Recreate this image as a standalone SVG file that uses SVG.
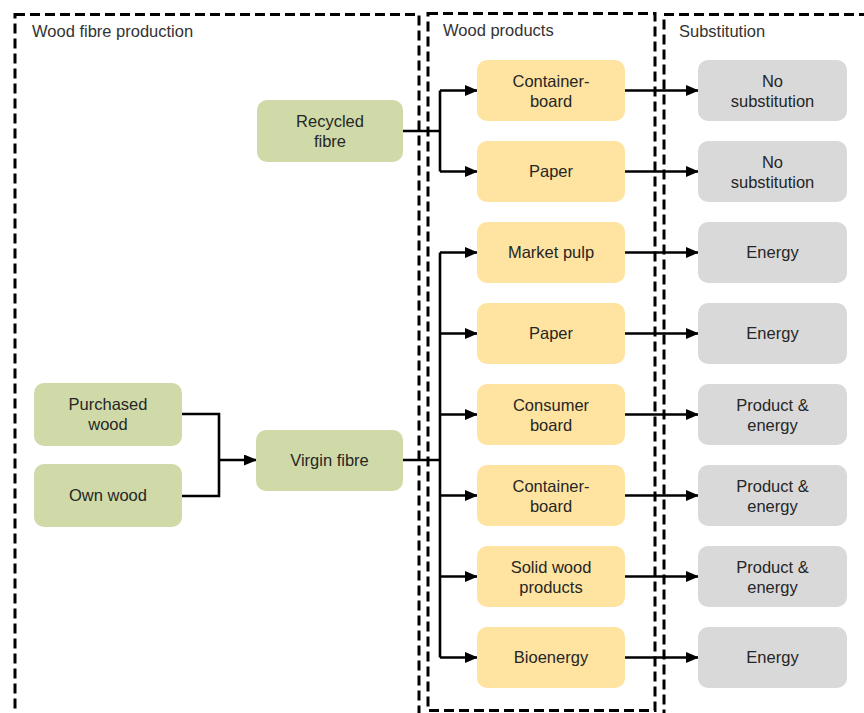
<svg xmlns="http://www.w3.org/2000/svg" width="864" height="713" viewBox="0 0 864 713">
<defs>
<marker id="arr" markerUnits="userSpaceOnUse" markerWidth="13" markerHeight="11" refX="12" refY="5.5" orient="auto"><path d="M0,0 L13,5.5 L0,11 z" fill="#000"/></marker>
<style>
.region{fill:none;stroke:#000;stroke-width:3;stroke-dasharray:10 5}
.hdr{font-family:"Liberation Sans",Arial,sans-serif;font-size:16.5px;fill:#333}
.t{font-family:"Liberation Sans",Arial,sans-serif;font-size:16.5px;fill:#262626;text-anchor:middle}
.g{fill:#D0DAA8}
.y{fill:#FFE3A0}
.s{fill:#D9D9D9}
.c{fill:none;stroke:#000;stroke-width:2.6}
.a{fill:none;stroke:#000;stroke-width:2.6;marker-end:url(#arr)}
</style>
</defs>
<rect width="864" height="713" fill="#fff"/>
<g id="regions">
<rect class="region" x="15" y="14.5" width="404" height="700.5"/>
<rect class="region" x="428" y="13.5" width="227" height="697"/>
<rect class="region" x="664" y="14.5" width="240" height="720"/>
<text class="hdr" x="32" y="37">Wood fibre production</text>
<text class="hdr" x="443" y="36">Wood products</text>
<text class="hdr" x="679" y="37">Substitution</text>
</g>
<g id="connectors">
<polyline class="c" points="403,131 440,131"/>
<polyline class="c" points="440,90.5 440,171.5"/>
<polyline class="a" points="440,90.5 477,90.5"/>
<polyline class="a" points="440,171.5 477,171.5"/>
<polyline class="c" points="403,460 440,460"/>
<polyline class="c" points="440,252.5 440,657.5"/>
<polyline class="a" points="440,252.5 477,252.5"/>
<polyline class="a" points="440,333.5 477,333.5"/>
<polyline class="a" points="440,414.5 477,414.5"/>
<polyline class="a" points="440,495.5 477,495.5"/>
<polyline class="a" points="440,576.5 477,576.5"/>
<polyline class="a" points="440,657.5 477,657.5"/>
<polyline class="c" points="182,414 219,414 219,496 182,496"/>
<polyline class="a" points="219,460 256,460"/>
<polyline class="a" points="625,90.5 698,90.5"/>
<polyline class="a" points="625,171.5 698,171.5"/>
<polyline class="a" points="625,252.5 698,252.5"/>
<polyline class="a" points="625,333.5 698,333.5"/>
<polyline class="a" points="625,414.5 698,414.5"/>
<polyline class="a" points="625,495.5 698,495.5"/>
<polyline class="a" points="625,576.5 698,576.5"/>
<polyline class="a" points="625,657.5 698,657.5"/>
</g>
<g id="recycled"><rect class="g" x="257" y="100" width="146" height="62" rx="10"/><text class="t" x="330" y="127">Recycled</text><text class="t" x="330" y="147">fibre</text></g>
<g id="purchased"><rect class="g" x="34" y="383" width="148" height="63" rx="10"/><text class="t" x="108" y="410">Purchased</text><text class="t" x="108" y="430">wood</text></g>
<g id="own"><rect class="g" x="34" y="464" width="148" height="63" rx="10"/><text class="t" x="108" y="501">Own  wood</text></g>
<g id="virgin"><rect class="g" x="256" y="430" width="147" height="61" rx="10"/><text class="t" x="329.5" y="466">Virgin fibre</text></g>
<g id="p1"><rect class="y" x="477" y="60" width="148" height="61" rx="10"/><text class="t" x="551" y="87">Container-</text><text class="t" x="551" y="107">board</text></g>
<g id="p2"><rect class="y" x="477" y="141" width="148" height="61" rx="10"/><text class="t" x="551" y="177">Paper</text></g>
<g id="p3"><rect class="y" x="477" y="222" width="148" height="61" rx="10"/><text class="t" x="551" y="258">Market  pulp</text></g>
<g id="p4"><rect class="y" x="477" y="303" width="148" height="61" rx="10"/><text class="t" x="551" y="339">Paper</text></g>
<g id="p5"><rect class="y" x="477" y="384" width="148" height="61" rx="10"/><text class="t" x="551" y="411">Consumer</text><text class="t" x="551" y="431">board</text></g>
<g id="p6"><rect class="y" x="477" y="465" width="148" height="61" rx="10"/><text class="t" x="551" y="492">Container-</text><text class="t" x="551" y="512">board</text></g>
<g id="p7"><rect class="y" x="477" y="546" width="148" height="61" rx="10"/><text class="t" x="551" y="573">Solid wood</text><text class="t" x="551" y="593">products</text></g>
<g id="p8"><rect class="y" x="477" y="627" width="148" height="61" rx="10"/><text class="t" x="551" y="663">Bioenergy</text></g>
<g id="s1"><rect class="s" x="698" y="60" width="149" height="61" rx="10"/><text class="t" x="772.5" y="87">No</text><text class="t" x="772.5" y="107">substitution</text></g>
<g id="s2"><rect class="s" x="698" y="141" width="149" height="61" rx="10"/><text class="t" x="772.5" y="168">No</text><text class="t" x="772.5" y="188">substitution</text></g>
<g id="s3"><rect class="s" x="698" y="222" width="149" height="61" rx="10"/><text class="t" x="772.5" y="258">Energy</text></g>
<g id="s4"><rect class="s" x="698" y="303" width="149" height="61" rx="10"/><text class="t" x="772.5" y="339">Energy</text></g>
<g id="s5"><rect class="s" x="698" y="384" width="149" height="61" rx="10"/><text class="t" x="772.5" y="411">Product &amp;</text><text class="t" x="772.5" y="431">energy</text></g>
<g id="s6"><rect class="s" x="698" y="465" width="149" height="61" rx="10"/><text class="t" x="772.5" y="492">Product &amp;</text><text class="t" x="772.5" y="512">energy</text></g>
<g id="s7"><rect class="s" x="698" y="546" width="149" height="61" rx="10"/><text class="t" x="772.5" y="573">Product &amp;</text><text class="t" x="772.5" y="593">energy</text></g>
<g id="s8"><rect class="s" x="698" y="627" width="149" height="61" rx="10"/><text class="t" x="772.5" y="663">Energy</text></g>
</svg>
